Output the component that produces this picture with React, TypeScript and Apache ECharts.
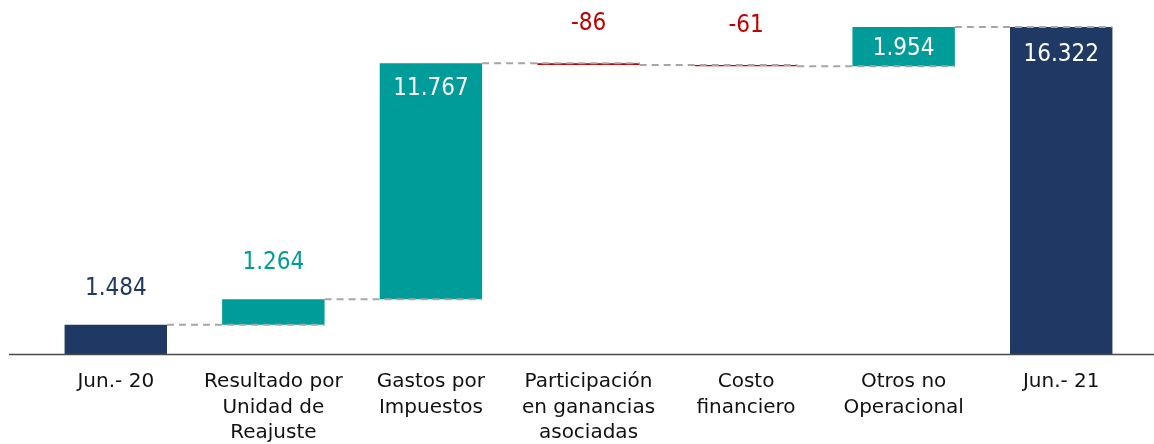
import React, { useEffect, useRef } from "react";
import * as echarts from "echarts";

const categories = [
  "Jun.- 20",
  "Resultado por\nUnidad de\nReajuste",
  "Gastos por\nImpuestos",
  "Participación\nen ganancias\nasociadas",
  "Costo\nfinanciero",
  "Otros no\nOperacional",
  "Jun.- 21",
];
const deltas = [1484, 1264, 11767, -86, -61, 1954, 16322];
const kinds = ["total", "inc", "inc", "dec", "dec", "inc", "total"];

const NAVY = "#203864";
const TEAL = "#009C99";
const RED = "#C00000";
const FONT = "DejaVu Sans Condensed";
const AXIS_FONT = "DejaVu Sans";

// label placement per bar (style only)
const labelPlacement = [
  { position: "top", distance: 26, inside: false },
  { position: "top", distance: 26, inside: false },
  { position: "insideTop", distance: 12, inside: true },
  { position: "top", distance: 29, inside: false },
  { position: "top", distance: 29, inside: false },
  { position: "inside", distance: 0, inside: true },
  { position: "insideTop", distance: 14, inside: true },
];

function fmt(v: number): string {
  const s = Math.abs(v).toString().replace(/\B(?=(\d{3})+(?!\d))/g, ".");
  return (v < 0 ? "-" : "") + s;
}

export default function App() {
  const ref = useRef<HTMLDivElement>(null);
  useEffect(() => {
    if (!ref.current) return;
    const chart = echarts.init(ref.current, null, { renderer: "svg" });

    const bases: number[] = [];
    const heights: number[] = [];
    const levels: number[] = [];
    let running = 0;
    deltas.forEach((d, i) => {
      const k = kinds[i];
      if (k === "total") {
        bases.push(0);
        heights.push(d);
        running = d;
      } else if (k === "inc") {
        bases.push(running);
        heights.push(d);
        running += d;
      } else {
        running += d;
        bases.push(running);
        heights.push(-d);
      }
      levels.push(running);
    });

    const colorOf = (i: number) =>
      kinds[i] === "total" ? NAVY : kinds[i] === "inc" ? TEAL : RED;

    const BAR_RATIO = 0.65;

    const option: any = {
      animation: false,
      grid: { left: 37, right: 14, top: 27, bottom: 86 },
      xAxis: {
        type: "category",
        data: categories,
        axisLine: { show: false },
        axisTick: { show: false },
        axisLabel: {
          interval: 0,
          margin: 13,
          fontFamily: AXIS_FONT,
          fontSize: 20,
          lineHeight: 25.5,
          color: "#111111",
          verticalAlign: "top",
        },
      },
      yAxis: {
        type: "value",
        min: 0,
        max: 16322,
        show: false,
        splitLine: { show: false },
      },
      series: [
        {
          type: "bar",
          stack: "w",
          barWidth: BAR_RATIO * 100 + "%",
          itemStyle: { color: "transparent" },
          emphasis: { disabled: true },
          data: bases,
          z: 2,
        },
        {
          type: "bar",
          stack: "w",
          barWidth: BAR_RATIO * 100 + "%",
          z: 2,
          data: heights.map((h, i) => {
            const p = labelPlacement[i];
            return {
              value: h,
              itemStyle: { color: colorOf(i) },
              label: {
                show: true,
                position: p.position,
                distance: p.distance,
                color: p.inside ? "#ffffff" : colorOf(i),
                fontFamily: FONT,
                fontSize: 24,
                formatter: () => fmt(deltas[i]),
              },
            };
          }),
        },
        {
          type: "custom",
          z: 5,
          silent: true,
          data: levels.slice(0, levels.length - 1).map((v, i) => [i, v]),
          renderItem: (params: any, api: any) => {
            const i = api.value(0);
            const v = api.value(1);
            const a = api.coord([i, v]);
            const b = api.coord([i + 1, v]);
            const half = (api.size([1, 0])[0] * BAR_RATIO) / 2;
            return {
              type: "line",
              shape: { x1: a[0] + half, y1: a[1], x2: b[0] + half, y2: b[1] },
              style: {
                stroke: "#A6A6A6",
                lineWidth: 2,
                lineDash: [7, 5],
              },
            };
          },
        },
      ],
    };
    chart.setOption(option);
    const y0 = chart.convertToPixel({ yAxisIndex: 0 }, 0) as number;
    chart.setOption({
      graphic: [
        {
          type: "line",
          shape: { x1: 9, y1: y0, x2: 1154, y2: y0 },
          style: { stroke: "#4a4a4a", lineWidth: 1.5 },
          z: 10,
        },
      ],
    });
    return () => chart.dispose();
  }, []);
  return (
    <div
      ref={ref}
      style={{ position: "fixed", left: 0, top: 0, width: 1154, height: 444 }}
    />
  );
}
